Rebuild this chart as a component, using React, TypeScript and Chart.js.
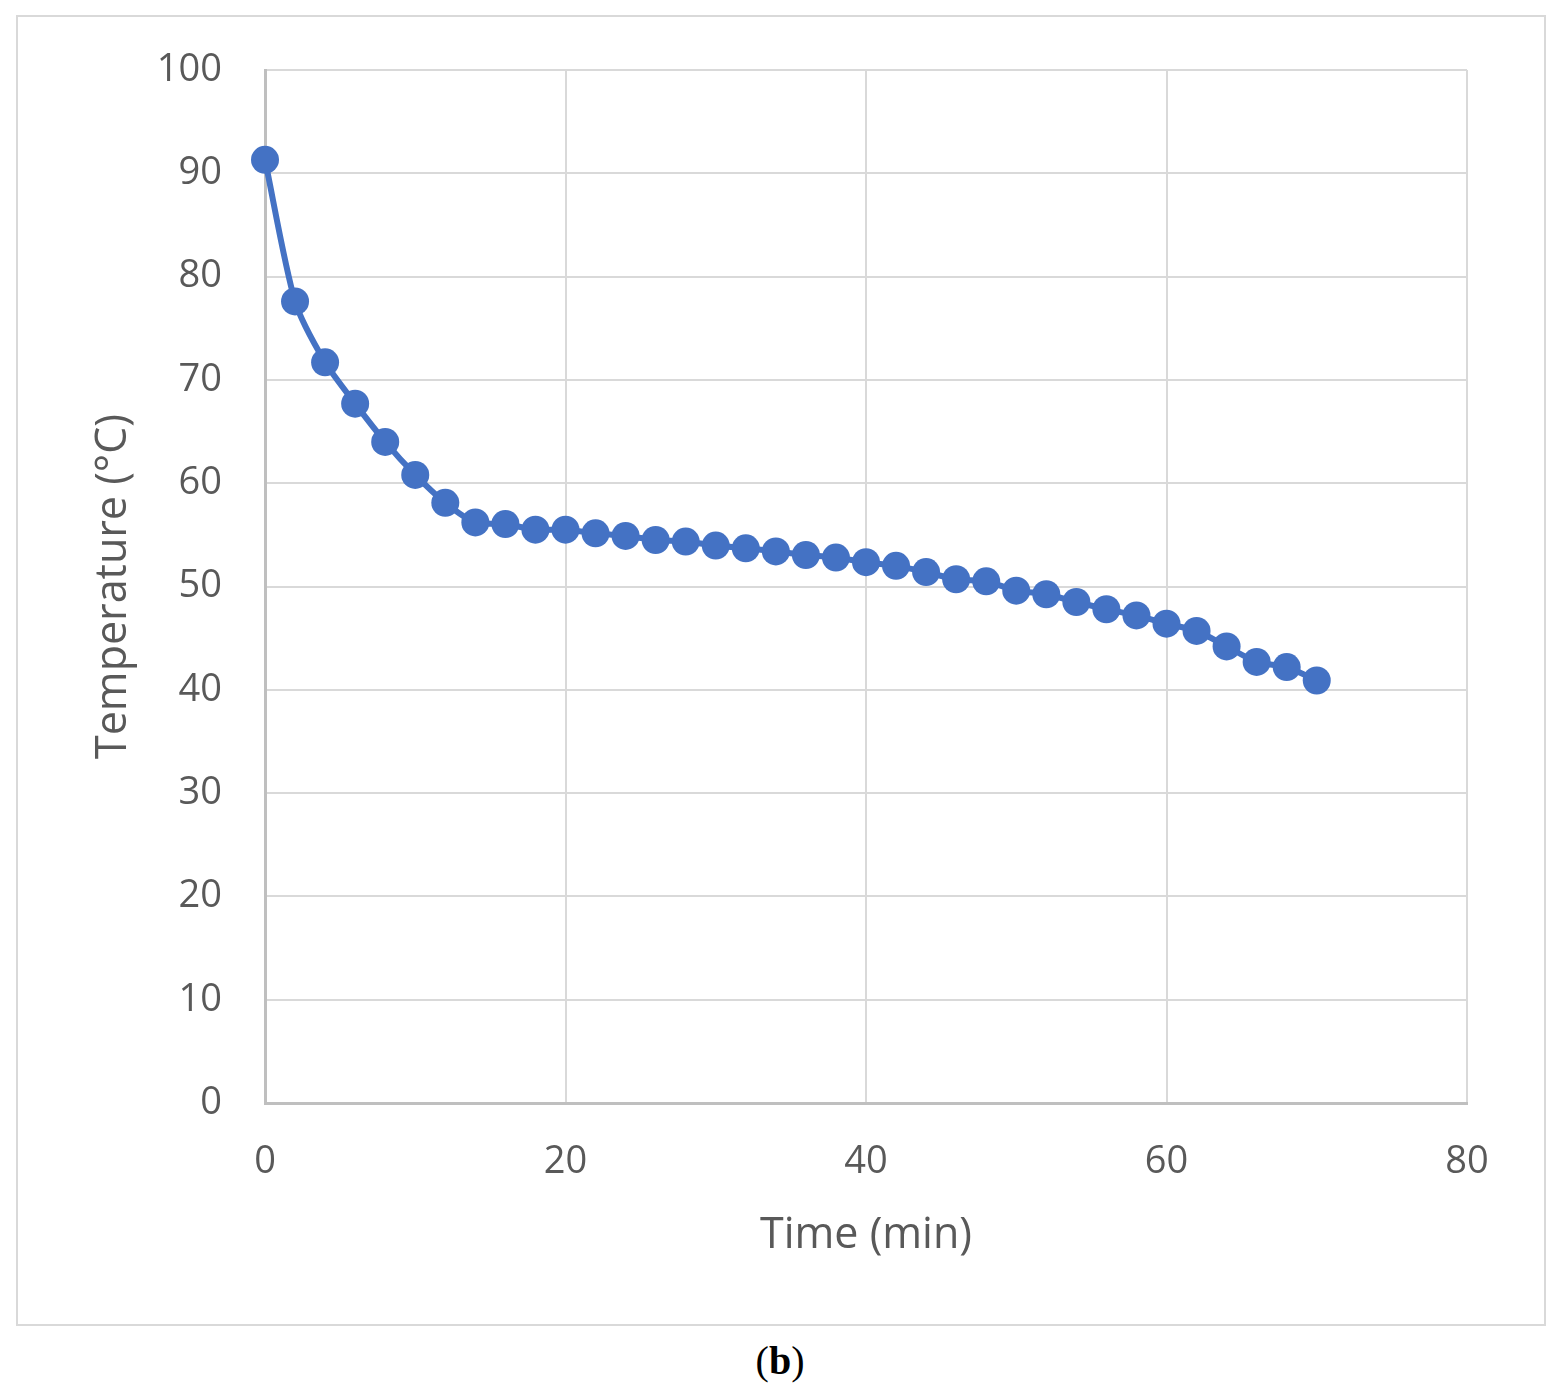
import React, { useEffect, useRef } from "react";
import { Chart, registerables } from "chart.js";

Chart.register(...registerables);

const times: number[] = [
  0, 2, 4, 6, 8, 10, 12, 14, 16, 18, 20, 22, 24, 26, 28, 30, 32, 34, 36, 38,
  40, 42, 44, 46, 48, 50, 52, 54, 56, 58, 60, 62, 64, 66, 68, 70,
];
const temperatures: number[] = [
  91.3, 77.6, 71.7, 67.7, 64.0, 60.8, 58.1, 56.2, 56.05, 55.5, 55.5, 55.15,
  54.9, 54.5, 54.35, 53.96, 53.7, 53.4, 53.05, 52.8, 52.35, 52.0, 51.4, 50.7,
  50.5, 49.6, 49.25, 48.5, 47.8, 47.2, 46.4, 45.7, 44.2, 42.7, 42.2, 40.9,
];
const xTitle = "Time (min)";
const yTitle = "Temperature (°C)";
const caption = "b";

const FONT = "'Open Sans', 'Noto Sans', sans-serif";

export default function App() {
  const ref = useRef<HTMLCanvasElement | null>(null);

  useEffect(() => {
    if (!ref.current) return;
    const chart = new Chart(ref.current, {
      type: "line",
      data: {
        datasets: [
          {
            data: times.map((t, i) => ({ x: t, y: temperatures[i] })),
            borderColor: "#4472C4",
            backgroundColor: "#4472C4",
            borderWidth: 6,
            pointRadius: 14,
            pointHoverRadius: 14,
            pointBorderWidth: 0,
            tension: 0.25,
            fill: false,
            clip: false,
          } as any,
        ],
      },
      options: {
        responsive: false,
        animation: false,
        devicePixelRatio: 1,
        layout: { padding: { left: 0, top: 53, right: 77, bottom: 0 } },
        plugins: { legend: { display: false }, tooltip: { enabled: false } },
        scales: {
          x: {
            type: "linear",
            min: 0,
            max: 80,
            ticks: {
              stepSize: 20,
              padding: 36,
              color: "#595959",
              font: { family: FONT, size: 38 },
            },
            grid: { color: "#d9d9d9", lineWidth: 2, drawTicks: false },
            border: { color: "#bfbfbf", width: 3 },
            title: {
              display: true,
              text: xTitle,
              color: "#595959",
              font: { family: FONT, size: 43 },
              padding: { top: 0, bottom: 62 },
            },
            afterFit: (s: any) => {
              s.height = 221;
              s.paddingLeft = 0;
              s.paddingRight = 0;
            },
          },
          y: {
            type: "linear",
            min: 0,
            max: 100,
            ticks: {
              stepSize: 10,
              padding: 43,
              color: "#595959",
              font: { family: FONT, size: 38 },
            },
            grid: { color: "#d9d9d9", lineWidth: 2, drawTicks: false },
            border: { color: "#bfbfbf", width: 3 },
            title: {
              display: true,
              text: yTitle,
              color: "#595959",
              font: { family: FONT, size: 43 },
              padding: { top: 70, bottom: 0 },
            },
            afterFit: (s: any) => {
              s.width = 247;
              s.paddingTop = 0;
              s.paddingBottom = 0;
            },
          },
        },
      },
    });
    return () => chart.destroy();
  }, []);

  return (
    <div style={{ position: "relative", width: 1544, height: 1384 }}>
      <div
        style={{
          position: "absolute",
          left: 8,
          top: 7,
          width: 1526,
          height: 1307,
          border: "2px solid #d9d9d9",
          background: "#fff",
        }}
      >
        <canvas ref={ref} width={1526} height={1307} style={{ display: "block" }} />
      </div>
      <div
        style={{
          position: "absolute",
          left: 0,
          width: 1544,
          top: 1330,
          textAlign: "center",
          fontFamily: "'Liberation Serif', 'DejaVu Serif', serif",
          fontSize: 40,
          lineHeight: "46px",
          color: "#000",
        }}
      >
        (<b>{caption}</b>)
      </div>
    </div>
  );
}
